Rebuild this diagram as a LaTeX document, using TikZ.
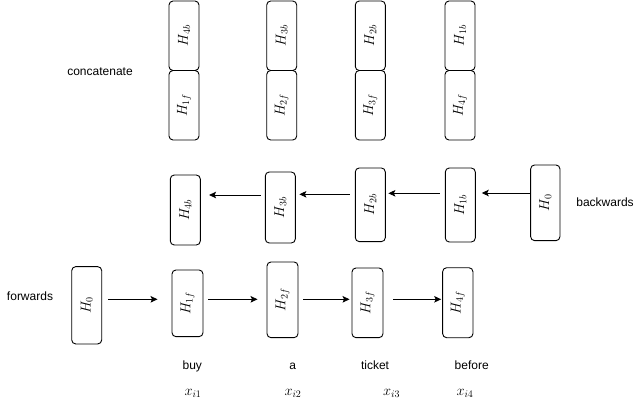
\documentclass[tikz,border=0pt]{standalone}
\usepackage{fontspec}
\setmainfont{Liberation Sans}
\usetikzlibrary{arrows.meta}
\begin{document}
\begin{tikzpicture}[x=1pt,y=-1pt,
  box/.style={draw=black,line width=0.9pt,rounded corners=4pt,inner sep=0pt,minimum width=30pt,font=\fontsize{14}{16}\selectfont},
  arr/.style={draw=black,line width=0.9pt,-{Stealth[length=7pt,width=6.5pt,inset=1.5pt]}},
  lbl/.style={font=\fontsize{12}{14}\selectfont,anchor=base,inner sep=0pt},
  mlbl/.style={font=\fontsize{14}{16}\selectfont,anchor=base,inner sep=0pt}]
\useasboundingbox (0,0) rectangle (642,404);
% concatenate rows
\node[box,minimum height=69.5pt] (t4b) at (184,35.75) {\rotatebox{90}{$H_{4b}$}};
\node[box,minimum height=69.5pt] (t1f) at (184,105.25) {\rotatebox{90}{$H_{1f}$}};
\node[box,minimum height=69.5pt] (t3b) at (281.7,35.75) {\rotatebox{90}{$H_{3b}$}};
\node[box,minimum height=69.5pt] (t2f) at (281.7,105.25) {\rotatebox{90}{$H_{2f}$}};
\node[box,minimum height=69.5pt] (t2b) at (370.3,35.75) {\rotatebox{90}{$H_{2b}$}};
\node[box,minimum height=69.5pt] (t3f) at (370.3,105.25) {\rotatebox{90}{$H_{3f}$}};
\node[box,minimum height=69.5pt] (t1b) at (460,35.75) {\rotatebox{90}{$H_{1b}$}};
\node[box,minimum height=69.5pt] (t4f) at (460,105.25) {\rotatebox{90}{$H_{4f}$}};
\node[lbl] (cat) at (100,75.5) {concatenate};
% backwards row
\node[box,minimum height=70pt] (m4b) at (185.3,210) {\rotatebox{90}{$H_{4b}$}};
\node[box,minimum height=71pt] (m3b) at (280.3,207.5) {\rotatebox{90}{$H_{3b}$}};
\node[box,minimum height=73.7pt] (m2b) at (370.3,204.8) {\rotatebox{90}{$H_{2b}$}};
\node[box,minimum height=74pt] (m1b) at (460.3,205) {\rotatebox{90}{$H_{1b}$}};
\node[box,minimum height=75.7pt,minimum width=29.3pt] (m0) at (545.3,202.8) {\rotatebox{90}{$H_{0}$}};
\node[lbl] (bw) at (605,206) {backwards};
\draw[arr,shorten >=6pt] ([yshift=9.8pt]m0.west) -- ([yshift=12pt]m1b.east);
\draw[arr,shorten <=5pt,shorten >=2.6pt] ([yshift=11.7pt]m1b.west) -- ([yshift=11.5pt]m2b.east);
\draw[arr,shorten <=5pt,shorten >=3.6pt] ([yshift=10.5pt]m2b.west) -- ([yshift=13.2pt]m3b.east);
\draw[arr,shorten <=4pt,shorten >=8.3pt] ([yshift=12.5pt]m3b.west) -- ([yshift=15pt]m4b.east);
% forwards row
\node[box,minimum height=77.3pt] (f0) at (86.7,305.3) {\rotatebox{90}{$H_{0}$}};
\node[box,minimum height=66.7pt,minimum width=31pt] (f1) at (187.5,303.3) {\rotatebox{90}{$H_{1f}$}};
\node[box,minimum height=75.7pt,minimum width=31pt] (f2) at (282.5,299.8) {\rotatebox{90}{$H_{2f}$}};
\node[box,minimum height=69.7pt,minimum width=31pt] (f3) at (367.5,302.8) {\rotatebox{90}{$H_{3f}$}};
\node[box,minimum height=70pt,minimum width=30.3pt] (f4) at (457.8,302.7) {\rotatebox{90}{$H_{4f}$}};
\node[lbl] (fw) at (30,300) {forwards};
\draw[arr,shorten <=6.3pt,shorten >=14pt] ([yshift=6pt]f0.east) -- ([yshift=4pt]f1.west);
\draw[arr,shorten <=4.7pt,shorten >=9pt] ([yshift=4pt]f1.east) -- ([yshift=0.5pt]f2.west);
\draw[arr,shorten <=5pt,shorten >=2pt] ([yshift=0.5pt]f2.east) -- ([yshift=3.5pt]f3.west);
\draw[arr,shorten <=10pt,shorten >=1pt] ([yshift=3.5pt]f3.east) -- ([yshift=3.4pt]f4.west);
% words
\node[lbl] (w1) at (192.3,369) {buy};
\node[lbl] (w2) at (292.7,369) {a};
\node[lbl] (w3) at (375,369) {ticket};
\node[lbl] (w4) at (471.7,369) {before};
\node[mlbl] (x1) at (193,395) {$x_{i1}$};
\node[mlbl] (x2) at (293,395) {$x_{i2}$};
\node[mlbl] (x3) at (391.7,395) {$x_{i3}$};
\node[mlbl] (x4) at (465,395) {$x_{i4}$};
\end{tikzpicture}
\end{document}
